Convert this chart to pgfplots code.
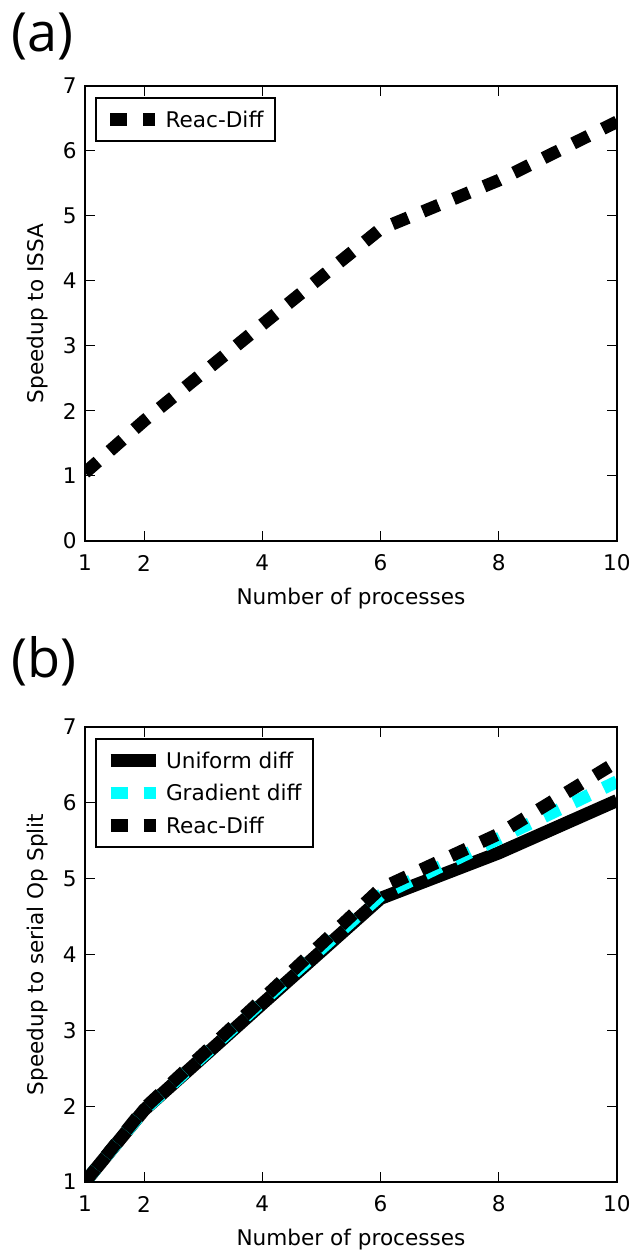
\documentclass[border=0pt]{standalone}
\usepackage{pgfplots}
\pgfplotsset{compat=1.18}
\usepackage{fontspec}
\setmainfont{DejaVu Sans}
\newfontfamily\panelfont{Open Sans}

\definecolor{purecyan}{RGB}{0,255,255}

% Speedup relative to ISSA
\pgfplotstableread{
n    reac
1    1.05
2    1.85
4    3.33
6    4.80
8    5.55
10   6.45
}\issatable

% Speedup relative to serial operator splitting
\pgfplotstableread{
n    uniform  gradient  reac
1    1.00     1.00      1.00
2    1.95     1.95      1.97
4    3.35     3.38      3.41
6    4.74     4.78      4.87
8    5.34     5.53      5.59
10   6.03     6.28      6.54
}\splittable

\pgfplotsset{
  speedup/.style={
    scale only axis,
    width=266pt, height=227.5pt,
    xmin=1, xmax=10,
    xtick={1,2,4,6,8,10},
    axis on top,
    axis line style={line width=1pt},
    tick style={line width=0.5pt, black},
    major tick length=5pt,
    tick align=inside,
    xtick pos=both, ytick pos=both,
    /pgf/number format/assume math mode=true,
    tick label style={font=\fontsize{10.8}{13}\selectfont},
    xticklabel style={anchor=center, yshift=-11pt},
    yticklabel style={anchor=east, inner sep=0pt, xshift=-4pt},
    label style={font=\fontsize{10.8}{13}\selectfont},
    xlabel style={at={(axis description cs:0.5,-0.1275)}, anchor=center},
    ylabel style={at={(axis description cs:-0.0883,0.5)}, anchor=center},
    xlabel={Number of processes},
    legend image code/.code={\draw[#1] (0pt,0pt) -- (22.5pt,0pt);},
    legend style={
      at={(axis description cs:0.0188,0.976)}, anchor=north west,
      draw=black, line width=1pt,
      inner xsep=4pt, inner ysep=4.8pt,
      row sep=4.35pt, column sep=0pt,
      font=\fontsize{10.8}{13}\selectfont,
      cells={anchor=west},
      nodes={inner sep=2pt, text height=7.9pt, text depth=0pt},
    },
  },
  uniformline/.style={black, line width=6.5pt, line join=round},
  gradientline/.style={purecyan, line width=6.3pt, dash pattern=on 8.5pt off 8pt},
  reacline/.style={black, line width=6.3pt, dash pattern=on 8.5pt off 8pt},
}

\begin{document}
\begin{tikzpicture}
\path[use as bounding box] (0pt,0pt) rectangle (317.5pt,626.5pt);

\node[anchor=west, inner sep=0pt, font=\panelfont\fontsize{27}{32}\selectfont]
  at (5.5pt,608pt) {(a)};
\node[anchor=west, inner sep=0pt, font=\panelfont\fontsize{27}{32}\selectfont]
  at (5.5pt,296pt) {(b)};

\begin{axis}[speedup,
  at={(42.5pt,356pt)}, anchor=south west,
  ymin=0, ymax=7, ytick={0,1,...,7},
  ylabel={Speedup to ISSA}]
\addplot[reacline] table[x=n, y=reac] {\issatable};
\addlegendentry{Reac-Diff}
\end{axis}

\begin{axis}[speedup,
  at={(42.5pt,35.5pt)}, anchor=south west,
  ymin=1, ymax=7, ytick={1,2,...,7},
  ylabel={Speedup to serial Op Split}]
\addplot[uniformline] table[x=n, y=uniform] {\splittable};
\addlegendentry{Uniform diff}
\addplot[gradientline] table[x=n, y=gradient] {\splittable};
\addlegendentry{Gradient diff}
\addplot[reacline] table[x=n, y=reac] {\splittable};
\addlegendentry{Reac-Diff}
\end{axis}
\end{tikzpicture}
\end{document}
